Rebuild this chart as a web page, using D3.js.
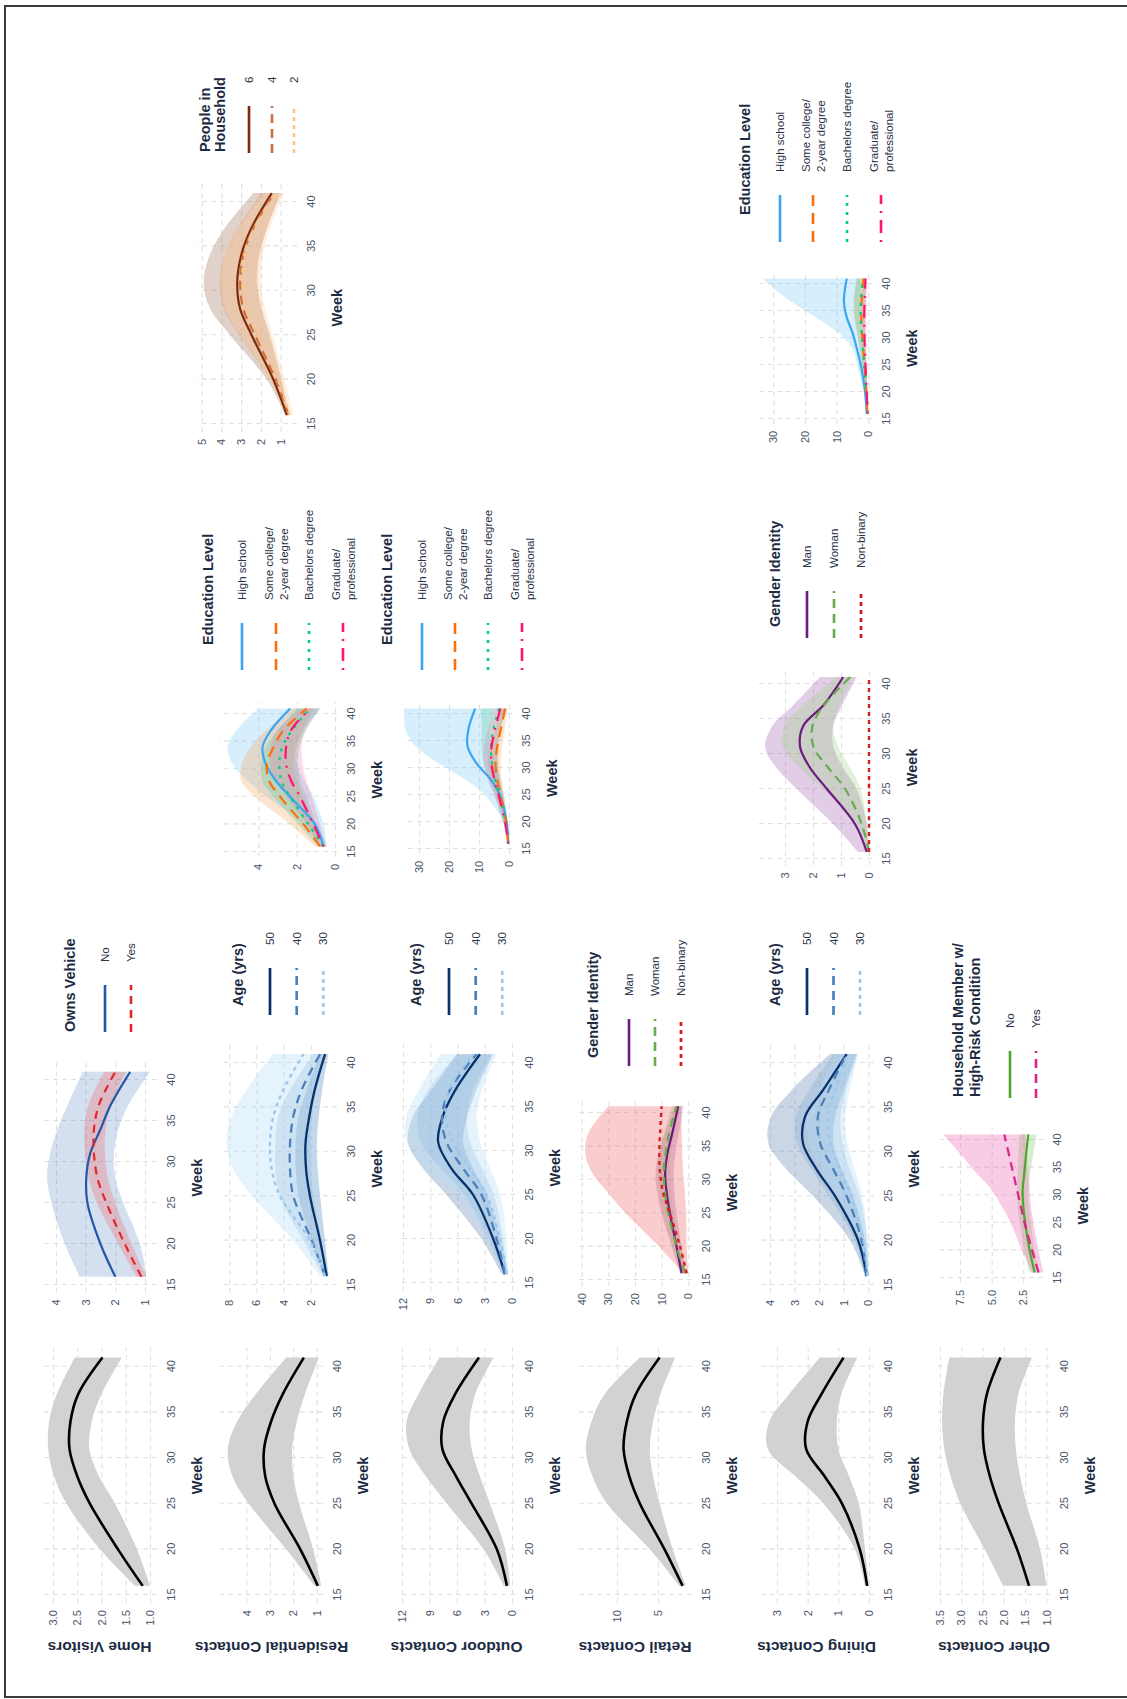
<!DOCTYPE html>
<html>
<head>
<meta charset="utf-8">
<script src="https://cdn.jsdelivr.net/npm/d3@7"></script>
<style>
  html, body { margin: 0; padding: 0; background: #ffffff; }
  svg { display: block; }
</style>
</head>
<body>
<svg id="fig" width="1127" height="1699"></svg>
<script>
// ---------------------------------------------------------------
// Data: model estimates by survey week, each row is [lower, estimate, upper]
// ---------------------------------------------------------------
const WEEKS = [16, 20, 25, 28, 31, 34, 37, 41];
const WEEK_TICKS = [15, 20, 25, 30, 35, 40];

const outcomes = ["Home Visitors", "Residential Contacts", "Outdoor Contacts",
                  "Retail Contacts", "Dining Contacts", "Other Contacts"];

const vehicleGroups = ["No", "Yes"];
const ageGroups = ["50", "40", "30"];
const genderGroups = ["Man", "Woman", "Non-binary"];
const eduGroups = ["High school", "Some college/\n2-year degree", "Bachelors degree", "Graduate/\nprofessional"];
const riskGroups = ["No", "Yes"];
const householdGroups = ["6", "4", "2"];

// overall estimates
const overallHome = [[1.0,1.15,1.31],[1.27,1.66,2.03],[1.72,2.24,2.72],[2.05,2.5,2.98],[2.25,2.66,3.1],[2.2,2.64,3.08],[2.0,2.48,2.92],[1.58,1.98,2.55]];
const overallResidential = [[0.8,0.95,1.1],[1.15,1.7,2.3],[1.75,2.8,3.9],[2.0,3.2,4.6],[2.05,3.25,4.8],[1.85,2.95,4.4],[1.5,2.45,3.6],[0.9,1.55,2.3]];
const overallOutdoor = [[0.2,0.55,0.9],[0.75,1.65,3.1],[2.4,4.4,7.1],[3.5,6.1,9.4],[4.4,7.6,11.2],[4.6,7.5,11.5],[4.0,6.2,10.2],[2.0,3.6,7.9]];
const overallRetail = [[1.6,2.0,2.4],[3.2,4.2,6.0],[4.8,7.2,11.2],[5.6,8.5,13.0],[6.0,9.2,13.8],[5.6,8.8,13.1],[4.7,7.7,11.5],[2.9,4.8,7.2]];
const overallDining = [[0.0,0.06,0.13],[0.13,0.3,0.46],[0.33,0.88,1.48],[0.65,1.45,2.4],[1.0,2.05,3.3],[1.05,2.0,3.25],[0.9,1.55,2.6],[0.38,0.83,1.6]];
const overallOther = [[1.0,1.41,2.02],[1.15,1.69,2.45],[1.47,2.12,3.02],[1.62,2.33,3.25],[1.72,2.47,3.4],[1.74,2.49,3.45],[1.66,2.4,3.42],[1.34,2.08,3.28]];

// home visitors by vehicle ownership
const vehicleNo = [[0.95,2.0,3.2],[1.17,2.5,3.7],[1.73,2.94,4.15],[2.0,2.98,4.3],[2.05,2.85,4.2],[1.9,2.5,3.95],[1.55,2.15,3.6],[0.83,1.5,3.1]];
const vehicleYes = [[0.95,1.12,1.28],[1.45,1.68,1.9],[2.0,2.3,2.62],[2.25,2.6,2.9],[2.35,2.72,3.02],[2.33,2.72,3.04],[2.15,2.55,2.9],[1.63,2.0,2.37]];

// residential contacts by age
const resAge50 = [[0.69,0.82,0.94],[0.94,1.31,1.92],[1.31,2.05,2.9],[1.5,2.34,3.1],[1.55,2.38,3.12],[1.4,2.1,2.9],[1.15,1.7,2.3],[0.69,0.94,1.31]];
const resAge40 = [[0.69,0.94,1.06],[1.19,1.92,2.54],[1.8,3.28,4.26],[2.0,3.52,4.6],[2.02,3.52,4.6],[1.9,3.28,4.4],[1.56,2.66,3.52],[0.82,1.31,1.8]];
const resAge30 = [[0.69,0.94,1.31],[1.06,2.05,3.28],[1.31,4.26,6.3],[1.45,4.87,7.7],[1.56,5.0,8.2],[1.5,4.75,7.83],[1.3,4.01,6.72],[0.82,2.54,4.75]];

// outdoor contacts by age
const outAge50 = [[0.4,0.77,1.14],[1.32,2.06,3.35],[2.79,4.27,7.21],[4.27,6.66,9.79],[5.37,8.13,11.45],[4.9,7.6,10.9],[3.9,6.2,8.8],[2.06,3.53,6.1]];
const outAge40 = [[0.5,0.77,1.0],[1.0,1.69,2.6],[2.0,3.35,5.2],[3.3,5.37,7.8],[4.6,7.21,10.0],[5.0,7.7,10.4],[4.3,6.8,9.2],[2.2,3.9,6.0]];
const outAge30 = [[0.4,0.6,0.9],[0.6,1.32,2.79],[1.3,2.79,5.9],[2.4,4.64,9.4],[3.5,6.48,11.6],[3.9,7.3,11.6],[3.3,6.9,10.2],[1.7,4.27,7.9]];

// retail contacts by gender identity
const retailMan = [[1.2,2.5,3.1],[2.5,4.4,6.2],[4.4,6.9,10.0],[5.2,8.1,11.7],[5.5,8.7,12.3],[4.8,7.8,11.2],[3.5,6.0,8.8],[1.9,3.8,5.0]];
const retailWoman = [[0.5,1.2,2.5],[2.8,4.4,6.0],[5.5,7.5,9.5],[6.5,8.7,11.0],[7.0,9.2,11.5],[6.3,8.5,10.8],[5.2,7.2,9.2],[2.8,4.4,6.2]];
const retailNonBinary = [[0.0,0.6,1.9],[0.6,3.1,11.0],[0.8,6.9,23.5],[1.3,9.4,30.0],[1.9,10.6,36.0],[2.3,10.9,38.7],[2.5,10.6,37.5],[2.5,10.0,30.0]];

// dining contacts by age
const diningAge50 = [[0.0,0.07,0.14],[0.14,0.41,0.74],[0.61,1.35,2.24],[1.08,2.1,3.32],[1.42,2.66,4.07],[1.35,2.57,3.95],[1.0,1.83,3.1],[0.47,0.88,1.56]];
const diningAge40 = [[0.0,0.07,0.14],[0.05,0.27,0.55],[0.35,0.88,1.6],[0.75,1.42,2.3],[1.05,1.96,2.9],[1.13,2.05,2.95],[0.9,1.6,2.4],[0.45,0.88,1.4]];
const diningAge30 = [[0.0,0.03,0.1],[0.02,0.2,0.45],[0.25,0.7,1.3],[0.55,1.15,1.9],[0.85,1.55,2.4],[0.95,1.65,2.5],[0.75,1.35,2.0],[0.4,0.85,1.3]];

// other contacts by high-risk household member
const otherRiskNo = [[1.2,1.6,2.0],[1.6,2.0,2.4],[1.9,2.35,2.8],[2.05,2.5,2.95],[2.1,2.55,3.0],[1.95,2.42,2.95],[1.75,2.3,2.9],[1.45,2.1,2.8]];
const otherRiskYes = [[0.9,1.3,1.8],[1.3,1.8,2.6],[1.7,2.4,3.5],[1.9,2.7,4.2],[2.0,3.0,5.0],[2.1,3.3,6.2],[2.2,3.6,7.3],[2.3,4.0,8.8]];

// residential contacts by education
const resEduHS = [[0.43,0.6,0.78],[0.6,1.04,1.66],[1.12,2.34,3.55],[1.6,3.1,4.6],[2.0,3.62,5.35],[2.05,3.78,5.6],[1.64,3.35,5.15],[0.78,2.34,4.0]];
const resEduSC = [[0.52,0.78,1.04],[1.04,1.64,2.34],[1.66,2.86,4.16],[2.0,3.45,4.9],[2.15,3.55,4.85],[2.0,3.2,4.4],[1.7,2.7,3.6],[1.12,1.47,2.34]];
const resEduBA = [[0.43,0.6,0.9],[0.95,1.38,1.9],[1.5,2.34,3.2],[1.8,2.8,3.8],[1.95,2.9,3.85],[1.85,2.75,3.6],[1.5,2.25,3.0],[0.78,1.3,2.0]];
const resEduGR = [[0.43,0.6,0.78],[0.78,1.12,1.47],[1.21,1.82,2.51],[1.5,2.3,3.1],[1.7,2.55,3.4],[1.75,2.55,3.35],[1.56,2.3,3.0],[0.78,1.3,1.82]];

// outdoor contacts by education
const outEduHS = [[0.0,0.2,0.5],[0.4,0.8,2.0],[1.6,3.0,8.0],[3.0,6.3,15.0],[4.6,11.0,24.0],[6.0,13.8,31.0],[6.5,13.6,34.5],[5.0,11.3,35.0]];
const outEduSC = [[0.15,0.3,0.5],[0.6,1.0,1.6],[1.7,2.8,4.2],[2.5,4.0,6.0],[2.8,4.5,7.0],[2.3,3.9,6.2],[1.5,2.8,4.6],[0.5,1.3,2.5]];
const outEduBA = [[0.15,0.3,0.5],[0.7,1.2,1.9],[2.0,3.2,4.8],[3.0,4.7,7.0],[3.6,5.7,8.5],[3.7,6.0,9.2],[3.0,5.3,9.0],[0.5,3.3,9.5]];
const outEduGR = [[0.15,0.3,0.5],[0.8,1.3,2.0],[2.3,3.5,5.0],[3.2,4.9,7.0],[3.8,5.9,8.3],[3.6,5.8,8.3],[2.8,4.7,7.0],[1.5,2.9,4.8]];

// dining contacts by gender identity
const diningMan = [[0.0,0.08,0.39],[0.08,0.5,1.28],[0.44,1.5,2.58],[0.92,2.1,3.3],[1.27,2.46,3.71],[1.28,2.35,3.45],[0.95,1.62,2.7],[0.44,0.92,1.75]];
const diningWoman = [[0.0,0.0,0.08],[0.08,0.26,0.44],[0.3,0.85,1.63],[0.67,1.45,2.46],[1.1,1.98,3.07],[1.28,2.02,3.02],[1.05,1.6,2.35],[0.57,0.67,1.15]];
const diningNonBinary = [[0,0,0],[0,0,0],[0,0,0],[0,0,0],[0,0,0],[0,0,0],[0,0,0],[0,0,0]];

// residential contacts by household size
const householdSix = [[0.61,0.69,0.78],[0.95,1.37,1.7],[1.54,2.47,3.56],[1.96,3.06,4.58],[2.21,3.2,4.9],[2.1,3.0,4.6],[1.7,2.5,3.85],[1.03,1.45,2.38]];
const householdFour = [[0.5,0.6,0.7],[1.0,1.25,1.55],[1.6,2.3,3.1],[2.0,2.9,3.9],[2.15,3.05,4.1],[2.05,2.9,3.85],[1.7,2.4,3.2],[0.95,1.35,2.0]];
const householdTwo = [[0.35,0.55,0.75],[0.8,1.15,1.6],[1.4,2.15,3.0],[1.8,2.75,3.8],[2.0,2.95,4.0],[1.9,2.85,3.85],[1.55,2.35,3.15],[0.8,1.25,1.8]];

// dining contacts by education
const diningEduHS = [[0.2,0.5,0.8],[0.5,1.0,1.5],[1.2,2.4,3.5],[1.8,3.6,5.0],[2.3,5.0,9.5],[2.5,6.9,17.0],[2.6,7.7,25.0],[2.5,6.8,33.5]];
const diningEduSC = [[0.1,0.3,0.5],[0.3,0.6,1.0],[0.6,1.2,2.0],[0.8,1.6,2.8],[0.9,2.0,3.6],[0.9,2.2,4.5],[0.8,2.1,4.6],[0.5,1.5,3.5]];
const diningEduBA = [[0.1,0.3,0.5],[0.35,0.7,1.1],[0.7,1.3,2.0],[0.9,1.7,2.7],[1.1,2.1,3.4],[1.1,2.45,4.3],[1.0,2.35,4.5],[0.6,1.8,3.8]];
const diningEduGR = [[0.05,0.2,0.35],[0.25,0.5,0.8],[0.45,0.9,1.4],[0.55,1.1,1.8],[0.6,1.25,2.0],[0.6,1.3,2.2],[0.5,1.15,2.0],[0.35,0.9,1.6]];

// value-axis tick labels
const ticksHome = [1.0, 1.5, 2.0, 2.5, 3.0];
const ticksResidential = [1, 2, 3, 4];
const ticksOutdoor = [0, 3, 6, 9, 12];
const ticksRetail = [5, 10];
const ticksDining = [0, 1, 2, 3];
const ticksOther = [1.0, 1.5, 2.0, 2.5, 3.0, 3.5];
const ticksVehicle = [1, 2, 3, 4];
const ticksResAge = [2, 4, 6, 8];
const ticksRetailGender = [0, 10, 20, 30, 40];
const ticksDiningAge = [0, 1, 2, 3, 4];
const ticksRisk = [2.5, 5.0, 7.5];
const ticksResEdu = [0, 2, 4];
const ticksEdu30 = [0, 10, 20, 30];
const ticksHousehold = [1, 2, 3, 4, 5];

// ---------------------------------------------------------------
// Styles
// ---------------------------------------------------------------
const FONT = "'Liberation Sans', Arial, Helvetica, sans-serif";
const TICK_COL = "#4a5567";
const TITLE_COL = "#1d2b42";
const GRID_COL = "#e0e0e0";

const overallStyle = { color: "#000000", width: 2.6, dash: null, fill: "#d2d2d2", fo: 1 };
const vehicleStyles = [
  { color: "#2457a6", width: 2.2, dash: null, fill: "#3d6cb8", fo: 0.22 },
  { color: "#e4262b", width: 2.2, dash: "8,6", fill: "#f0585c", fo: 0.28 }];
const ageStyles = [
  { color: "#08326b", width: 2.3, dash: null, fill: "#2a5d96", fo: 0.25 },
  { color: "#4c80ba", width: 2.3, dash: "9,6", fill: "#6a9fd0", fo: 0.25 },
  { color: "#98c8ee", width: 2.3, dash: "4,4", fill: "#b5dcf7", fo: 0.35 }];
const genderStyles = [
  { color: "#6a1b7c", width: 2.2, dash: null, fill: "#9b5aad", fo: 0.3 },
  { color: "#6aaa4e", width: 2.2, dash: "9,6", fill: "#9ad084", fo: 0.3 },
  { color: "#e01a1a", width: 2.4, dash: "4,4", fill: "#ef7070", fo: 0.35 }];
const eduStyles = [
  { color: "#3aa6f2", width: 2.2, dash: null, fill: "#8ccdf7", fo: 0.35 },
  { color: "#ff6d0a", width: 2.2, dash: "11,7", fill: "#f4a460", fo: 0.3 },
  { color: "#00cf86", width: 2.2, dash: "3,6", fill: "#3cc98a", fo: 0.25 },
  { color: "#ff1474", width: 2.2, dash: "2,7,13,7", fill: "#ee6aa6", fo: 0.25 }];
const riskStyles = [
  { color: "#4ea62c", width: 2.2, dash: null, fill: "#7cc75c", fo: 0.3 },
  { color: "#e0218a", width: 2.2, dash: "9,6", fill: "#ec6cb2", fo: 0.35 }];
const householdStyles = [
  { color: "#7c2a0c", width: 2.2, dash: null, fill: "#a87b6a", fo: 0.35 },
  { color: "#c8713f", width: 2.2, dash: "9,6", fill: "#e0a070", fo: 0.3 },
  { color: "#fdc28a", width: 2.2, dash: "4,4", fill: "#fdd5a8", fo: 0.35 }];

// ---------------------------------------------------------------
// Figure frame: the whole grid of plots is laid out on its side
// ---------------------------------------------------------------
const W = 1127, H = 1699;
const svg = d3.select("#fig");
svg.append("rect").attr("x", 5).attr("y", 6).attr("width", 1140).attr("height", 1691)
  .attr("fill", "none").attr("stroke", "#3a3a3a").attr("stroke-width", 2);

const g = svg.append("g").attr("transform", `translate(0,${H}) rotate(-90)`)
  .attr("font-family", FONT);

// page positions are given as (page x, page y); the rotated frame uses (H - page y, page x)
const fx = py => H - py;

const WEEK_EXT = [14.1, 42.1];
const smooth = d3.curveCatmullRom.alpha(0.5);

function drawPanel(p) {
  const x = d3.scaleLinear().domain([15, 40]).range([fx(p.w15), fx(p.w40)]);
  const y = d3.scaleLinear().domain([p.vA, p.vB]).range([p.pA, p.pB]);
  const xL = x(WEEK_EXT[0]), xR = x(WEEK_EXT[1]);
  const yT = p.ext[0], yB = p.ext[1];
  const pg = g.append("g");

  const weekAxis = d3.axisBottom(x).tickValues(WEEK_TICKS).tickFormat(d3.format("d"))
    .tickSize(-(yB - yT)).tickPadding(10);
  const valAxis = d3.axisLeft(y).tickValues(p.ticks).tickFormat(p.fmt || d3.format("d"))
    .tickSize(-(xR - xL)).tickPadding(7);

  [pg.append("g").attr("transform", `translate(0,${yB})`).call(weekAxis),
   pg.append("g").attr("transform", `translate(${xL},0)`).call(valAxis)].forEach(a => {
    a.attr("font-family", FONT).attr("font-size", 11);
    a.select(".domain").remove();
    a.selectAll(".tick line").attr("stroke", GRID_COL).attr("stroke-width", 1.1)
      .attr("stroke-dasharray", "5,4");
    a.selectAll(".tick text").attr("fill", TICK_COL);
  });

  const area = d3.area().x((d, i) => x(WEEKS[i])).y0(d => y(d[0])).y1(d => y(d[2])).curve(smooth);
  const line = d3.line().x((d, i) => x(WEEKS[i])).y(d => y(d[1])).curve(smooth);

  p.series.forEach((s, i) => {
    const st = p.styles[i];
    pg.append("path").datum(s).attr("d", area).attr("fill", st.fill).attr("fill-opacity", st.fo);
  });
  p.series.forEach((s, i) => {
    const st = p.styles[i];
    pg.append("path").datum(s).attr("d", line).attr("fill", "none")
      .attr("stroke", st.color).attr("stroke-width", st.width)
      .attr("stroke-dasharray", st.dash).attr("stroke-linejoin", "round");
  });

  pg.append("text").attr("x", (xL + xR) / 2).attr("y", yB + 40)
    .attr("text-anchor", "middle").attr("dominant-baseline", "central")
    .attr("font-size", 14.5).attr("font-weight", "bold").attr("fill", TITLE_COL).text("Week");

  if (p.ylab) {
    pg.append("text").attr("transform", `translate(${fx(1647)},${(yT + yB) / 2}) rotate(-90)`)
      .attr("text-anchor", "middle").attr("dominant-baseline", "central")
      .attr("font-size", 15.5).attr("font-weight", "bold").attr("fill", TITLE_COL).text(p.ylab);
  }

  if (p.legend) drawLegend(p.legend, p.styles);
}

function drawLegend(L, styles) {
  const lg = g.append("g");
  L.title.forEach((t, i) => {
    lg.append("text").attr("x", fx(L.tStart)).attr("y", L.tx[i])
      .attr("dominant-baseline", "central").attr("font-size", 14.5).attr("font-weight", "bold")
      .attr("fill", TITLE_COL).text(t);
  });
  L.keys.forEach((kx, i) => {
    const st = styles[i];
    lg.append("line").attr("x1", fx(L.kEnd)).attr("x2", fx(L.kEnd) + 47)
      .attr("y1", kx).attr("y2", kx).attr("stroke", st.color).attr("stroke-width", st.width + 0.4)
      .attr("stroke-dasharray", st.dash);
    const lines = L.labels[i].split("\n");
    lines.forEach((ln, j) => {
      lg.append("text").attr("x", fx(L.kEnd) + 70).attr("y", kx + (j - (lines.length - 1) / 2) * 15)
        .attr("dominant-baseline", "central").attr("font-size", 11.5).attr("fill", "#2a3446").text(ln);
    });
  });
}

const f1 = d3.format(".1f");

// ---------------------------------------------------------------
// Panels
// ---------------------------------------------------------------
const panels = [
  // overall column
  { w15: 1595, w40: 1366.7, vA: 3.0, pA: 53, vB: 1.0, pB: 150, ext: [42, 157], ticks: ticksHome, fmt: f1,
    ylab: outcomes[0], series: [overallHome], styles: [overallStyle] },
  { w15: 1595, w40: 1366.7, vA: 4, pA: 246.5, vB: 2, pB: 293.3, ext: [220, 323], ticks: ticksResidential,
    ylab: outcomes[1], series: [overallResidential], styles: [overallStyle] },
  { w15: 1595, w40: 1366.7, vA: 12, pA: 402, vB: 0, pB: 512, ext: [398, 515], ticks: ticksOutdoor,
    ylab: outcomes[2], series: [overallOutdoor], styles: [overallStyle] },
  { w15: 1595, w40: 1366.7, vA: 10, pA: 617, vB: 5, pB: 658, ext: [578, 692], ticks: ticksRetail,
    ylab: outcomes[3], series: [overallRetail], styles: [overallStyle] },
  { w15: 1595, w40: 1366.7, vA: 3, pA: 777, vB: 0, pB: 869, ext: [759, 874], ticks: ticksDining,
    ylab: outcomes[4], series: [overallDining], styles: [overallStyle] },
  { w15: 1595, w40: 1366.7, vA: 3.5, pA: 940, vB: 1.0, pB: 1046.5, ext: [938, 1050], ticks: ticksOther, fmt: f1,
    ylab: outcomes[5], series: [overallOther], styles: [overallStyle] },

  // first breakdown column
  { w15: 1285, w40: 1080, vA: 4, pA: 56, vB: 1, pB: 145, ext: [42, 157], ticks: ticksVehicle,
    series: [vehicleNo, vehicleYes], styles: vehicleStyles,
    legend: { title: ["Owns Vehicle"], tx: [70], tStart: 1032, keys: [105, 131], kEnd: 1032, labels: vehicleGroups } },
  { w15: 1285, w40: 1063, vA: 8, pA: 229.3, vB: 2, pB: 310.7, ext: [220, 337], ticks: ticksResAge,
    series: [resAge50, resAge40, resAge30], styles: ageStyles,
    legend: { title: ["Age (yrs)"], tx: [238], tStart: 1006, keys: [270, 296.7, 323.3], kEnd: 1015, labels: ageGroups } },
  { w15: 1283, w40: 1063, vA: 12, pA: 403, vB: 0, pB: 512, ext: [398, 515], ticks: ticksOutdoor,
    series: [outAge50, outAge40, outAge30], styles: ageStyles,
    legend: { title: ["Age (yrs)"], tx: [416], tStart: 1006, keys: [449, 475.7, 502.3], kEnd: 1015, labels: ageGroups } },
  { w15: 1280, w40: 1113, vA: 40, pA: 581.7, vB: 0, pB: 688.3, ext: [577, 692], ticks: ticksRetailGender,
    series: [retailMan, retailWoman, retailNonBinary], styles: genderStyles,
    legend: { title: ["Gender Identity"], tx: [593], tStart: 1058, keys: [629, 655, 681], kEnd: 1066, labels: genderGroups } },
  { w15: 1285, w40: 1063, vA: 4, pA: 770, vB: 0, pB: 868.3, ext: [759, 874], ticks: ticksDiningAge,
    series: [diningAge50, diningAge40, diningAge30], styles: ageStyles,
    legend: { title: ["Age (yrs)"], tx: [775], tStart: 1006, keys: [807, 833.5, 860], kEnd: 1015, labels: ageGroups } },
  { w15: 1278, w40: 1140, vA: 7.5, pA: 960, vB: 2.5, pB: 1023.3, ext: [940, 1043], ticks: ticksRisk, fmt: f1,
    series: [otherRiskNo, otherRiskYes], styles: riskStyles,
    legend: { title: ["Household Member w/", "High-Risk Condition"], tx: [958, 975], tStart: 1097,
              keys: [1010, 1036], kEnd: 1098, labels: riskGroups } },

  // second breakdown column
  { w15: 852, w40: 714, vA: 4, pA: 258.3, vB: 0, pB: 335, ext: [219, 337], ticks: ticksResEdu,
    series: [resEduHS, resEduSC, resEduBA, resEduGR], styles: eduStyles,
    legend: { title: ["Education Level"], tx: [208], tStart: 645, keys: [242, 276, 309, 343], kEnd: 670, labels: eduGroups } },
  { w15: 849, w40: 714, vA: 30, pA: 419, vB: 0, pB: 509, ext: [404, 512], ticks: ticksEdu30,
    series: [outEduHS, outEduSC, outEduBA, outEduGR], styles: eduStyles,
    legend: { title: ["Education Level"], tx: [387], tStart: 645, keys: [422, 455, 488, 522], kEnd: 670, labels: eduGroups } },
  { w15: 859, w40: 684, vA: 3, pA: 785, vB: 0, pB: 869, ext: [759, 872], ticks: ticksDining,
    series: [diningMan, diningWoman, diningNonBinary], styles: genderStyles,
    legend: { title: ["Gender Identity"], tx: [775], tStart: 627, keys: [807, 834, 861], kEnd: 638, labels: genderGroups } },

  // third breakdown column
  { w15: 424, w40: 202, vA: 5, pA: 201.7, vB: 1, pB: 280.7, ext: [197, 297], ticks: ticksHousehold,
    series: [householdSix, householdFour, householdTwo], styles: householdStyles,
    legend: { title: ["People in", "Household"], tx: [205, 220], tStart: 152, keys: [249, 272, 294], kEnd: 153, labels: householdGroups } },
  { w15: 419, w40: 284, vA: 30, pA: 773.3, vB: 0, pB: 868.3, ext: [760, 872], ticks: ticksEdu30,
    series: [diningEduHS, diningEduSC, diningEduBA, diningEduGR], styles: eduStyles,
    legend: { title: ["Education Level"], tx: [745], tStart: 215, keys: [780, 813, 847, 881], kEnd: 242, labels: eduGroups } }
];

panels.forEach(drawPanel);
</script>
</body>
</html>
